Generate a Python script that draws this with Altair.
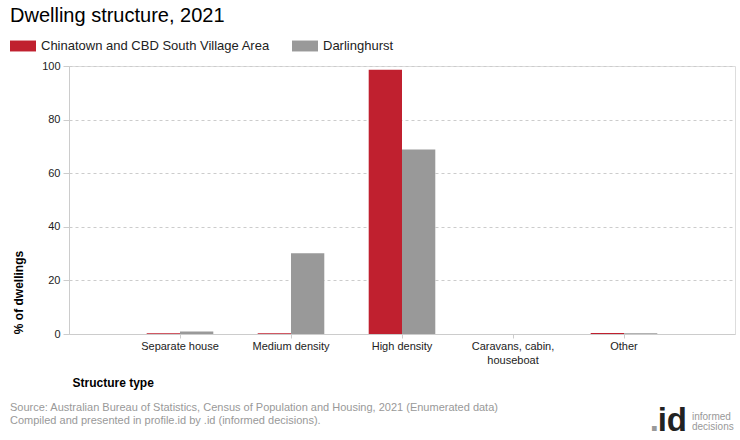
import altair as alt
import pandas as pd

categories = ["Separate house", "Medium density", "High density",
              "Caravans, cabin, houseboat", "Other"]
series = ["Chinatown and CBD South Village Area", "Darlinghurst"]
chinatown = [0.3, 0.3, 98.6, 0.0, 0.4]
darlinghurst = [0.9, 30.1, 68.8, 0.0, 0.3]
colors = ["#C0202F", "#999999"]

rows = []
for c, a, b in zip(categories, chinatown, darlinghurst):
    rows.append({"type": c, "area": series[0], "pct": a})
    rows.append({"type": c, "area": series[1], "pct": b})
df = pd.DataFrame(rows)

FONT = "Liberation Sans"

bars = alt.Chart(df).mark_bar().encode(
    x=alt.X("type:N", sort=categories,
            scale=alt.Scale(paddingInner=0.4, paddingOuter=0.7),
            axis=alt.Axis(title="Structure type", labelAngle=0,
                          labelExpr="datum.label == 'Caravans, cabin, houseboat' ? ['Caravans, cabin,', 'houseboat'] : datum.label",
                          labelFont=FONT, labelFontSize=11, labelColor="#222222",
                          labelPadding=2, labelLineHeight=14,
                          tickColor="#cccccc", tickSize=4, domainColor="#cccccc",
                          titleFont=FONT, titleFontSize=12, titleFontWeight="bold",
                          titleColor="#000000", titleAnchor="start", titleAlign="left",
                          titleX=3, titleY=48, titleBaseline="middle")),
    xOffset=alt.XOffset("area:N", sort=series),
    y=alt.Y("pct:Q", scale=alt.Scale(domain=[0, 100]),
            axis=alt.Axis(title="% of dwellings", values=[0, 20, 40, 60, 80, 100],
                          labelFont=FONT, labelFontSize=11, labelColor="#222222",
                          labelPadding=3, tickColor="#cccccc", tickSize=6,
                          domainColor="#cccccc", gridColor="#cccccc", gridDash=[3, 3],
                          titleFont=FONT, titleFontSize=12, titleFontWeight="bold",
                          titleColor="#000000", titleAngle=270, titleAlign="center",
                          titleBaseline="middle", titleX=-51, titleY=226)),
    color=alt.Color("area:N", sort=series,
                    scale=alt.Scale(domain=series, range=colors),
                    legend=alt.Legend(title=None, orient="none", direction="horizontal",
                                      legendX=-59, legendY=-33,
                                      symbolType="M-1,-0.42H1V0.42H-1Z", symbolSize=676,
                                      symbolStrokeWidth=0, symbolOpacity=1,
                                      labelFont=FONT, labelFontSize=13, labelColor="#222222",
                                      labelLimit=400,
                                      labelOffset=5, columnPadding=22)),
)

notes = pd.DataFrame({
    "label": ["Source: Australian Bureau of Statistics, Census of Population and Housing, 2021 (Enumerated data)",
              "Compiled and presented in profile.id by .id (informed decisions)."],
    "row": [0, 1],
})
foot1 = alt.Chart(notes).transform_filter("datum.row == 0").mark_text(
    align="left", baseline="middle", font=FONT, fontSize=11, color="#999999"
).encode(text="label:N", x=alt.value(-59), y=alt.value(342))
foot2 = alt.Chart(notes).transform_filter("datum.row == 1").mark_text(
    align="left", baseline="middle", font=FONT, fontSize=11, color="#999999"
).encode(text="label:N", x=alt.value(-59), y=alt.value(355))

logo = pd.DataFrame({"t": [".", "id", "informed", "decisions"]})
logo0 = alt.Chart(logo).transform_filter("datum.t == '.'").mark_text(
    align="right", baseline="alphabetic", font=FONT, fontSize=33, fontWeight="bold",
    color="#999999"
).encode(text="t:N", x=alt.value(590), y=alt.value(365))
logo1 = alt.Chart(logo).transform_filter("datum.t == 'id'").mark_text(
    align="right", baseline="alphabetic", font=FONT, fontSize=33, fontWeight="bold",
    color="#222222"
).encode(text="t:N", x=alt.value(618), y=alt.value(365))
logo2 = alt.Chart(logo).transform_filter("datum.t == 'informed'").mark_text(
    align="left", baseline="middle", font=FONT, fontSize=10, color="#999999"
).encode(text="t:N", x=alt.value(623), y=alt.value(351))
logo3 = alt.Chart(logo).transform_filter("datum.t == 'decisions'").mark_text(
    align="left", baseline="middle", font=FONT, fontSize=10, color="#999999"
).encode(text="t:N", x=alt.value(623), y=alt.value(361))

chart = alt.layer(bars, foot1, foot2, logo0, logo1, logo2, logo3).properties(
    width=666, height=268,
    autosize=alt.AutoSizeParams(type="none"),
    padding={"left": 69, "top": 66, "right": 5, "bottom": 106},
    title=alt.TitleParams("Dwelling structure, 2021", anchor="start", frame="group",
                          dx=-59, offset=7, font=FONT, fontSize=20,
                          fontWeight="normal", color="#000000"),
).configure_view(stroke=None).configure(background="white")

chart.save("out.html", embed_options={"renderer": "svg", "actions": False})
